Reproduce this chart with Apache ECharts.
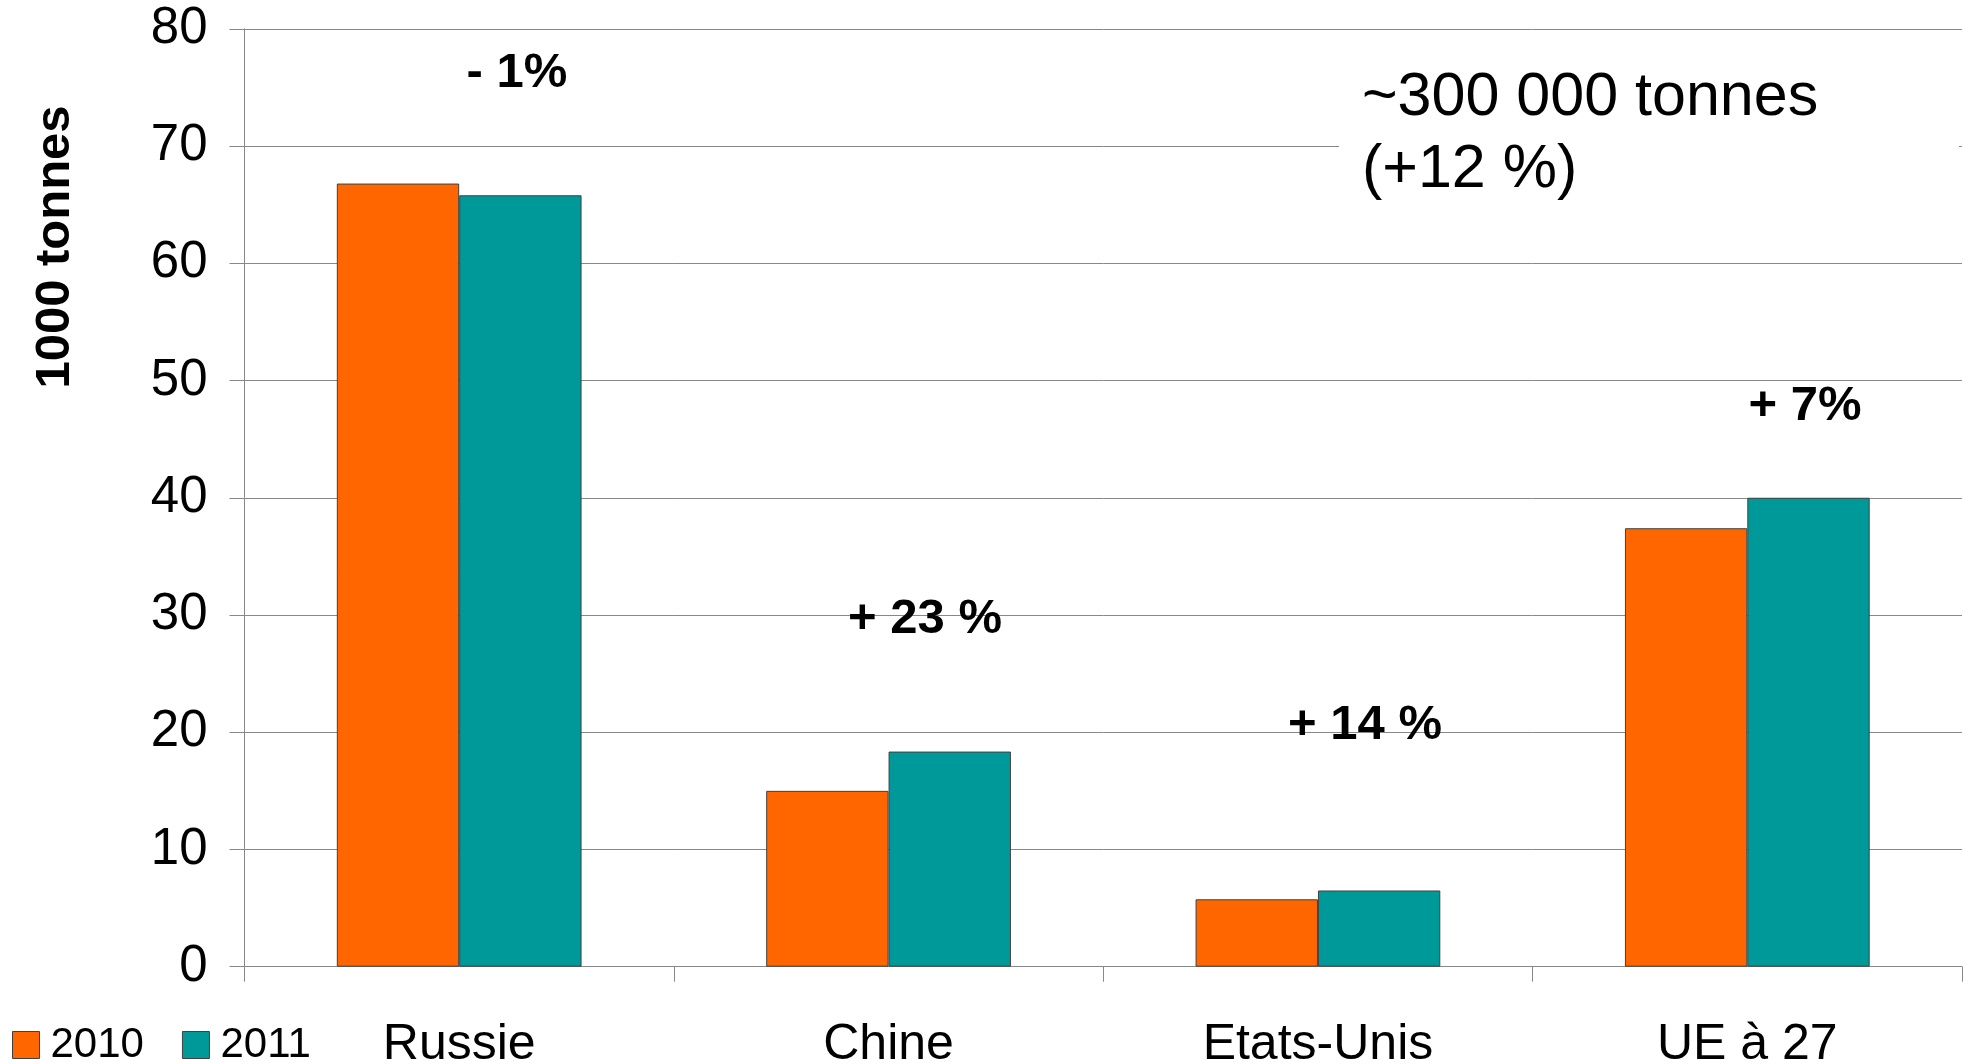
<!DOCTYPE html>
<html><head><meta charset="utf-8">
<script src="https://cdn.jsdelivr.net/npm/echarts@6/dist/echarts.min.js"></script>
<style>html,body{margin:0;padding:0;background:#fff}#c{width:1966px;height:1064px}</style>
</head><body><div id="c"></div>
<script>
const categories = ['Russie', 'Chine', 'Etats-Unis', 'UE à 27'];
const values2010 = [66.8, 15.0, 5.75, 37.4];
const values2011 = [65.8, 18.35, 6.5, 40.0];
const seriesNames = ['2010', '2011'];
const changeLabels = ['- 1%', '+ 23 %', '+ 14 %', '+ 7%'];
const totalNote = ['~300 000 tonnes', '(+12 %)'];
const yAxisTitle = '1000 tonnes';

const FONT = '"Liberation Sans", Arial, sans-serif';
const chart = echarts.init(document.getElementById('c'), null, {renderer: 'canvas'});
const changePos = [[517, 73], [925, 619], [1365, 725], [1805, 406]];

chart.setOption({
  animation: false,
  backgroundColor: '#ffffff',
  grid: {left: 244.5, right: 4, top: 28.8, bottom: 97.3, containLabel: false, outerBoundsMode: 'none'},
  legend: {
    left: 12, top: 1024, padding: 0, itemWidth: 27, itemHeight: 27, itemGap: 38,
    icon: 'rect',
    itemStyle: {borderColor: '#404040', borderWidth: 1},
    textStyle: {fontFamily: FONT, fontSize: 42, color: '#000', padding: [0, 0, 0, 6]},
    data: seriesNames
  },
  xAxis: {
    type: 'category', data: categories,
    axisLine: {lineStyle: {color: '#888', width: 1}},
    axisTick: {show: true, length: 15, lineStyle: {color: '#888'}},
    axisLabel: {fontFamily: FONT, fontSize: 50, color: '#000', margin: 54}
  },
  yAxis: {
    type: 'value', min: 0, max: 80, interval: 10,
    axisLine: {show: true, lineStyle: {color: '#888', width: 1}},
    axisTick: {show: true, length: 15, lineStyle: {color: '#888'}},
    splitLine: {lineStyle: {color: '#888', width: 1}},
    axisLabel: {fontFamily: FONT, fontSize: 51, color: '#000', margin: 37}
  },
  series: [
    {name: seriesNames[0], type: 'bar', data: values2010, barGap: '0%', barCategoryGap: '43%',
     itemStyle: {color: '#FF6600', borderColor: '#404040', borderWidth: 1}},
    {name: seriesNames[1], type: 'bar', data: values2011, barGap: '0%', barCategoryGap: '43%',
     itemStyle: {color: '#009999', borderColor: '#404040', borderWidth: 1}}
  ],
  graphic: [
    {type: 'text', x: 55, y: 247, rotation: Math.PI / 2, z: 100,
     style: {text: yAxisTitle, fontFamily: FONT, fontSize: 49, fontWeight: 'bold', fill: '#000', align: 'center', verticalAlign: 'middle'}},
    {type: 'rect', z: 100, shape: {x: 1339, y: 45, width: 620, height: 150}, style: {fill: '#fff'}},
    {type: 'text', z: 101, x: 1362, y: 98,
     style: {text: totalNote[0], fontFamily: FONT, fontSize: 61, fill: '#000', align: 'left', verticalAlign: 'middle'}},
    {type: 'text', z: 101, x: 1362, y: 170,
     style: {text: totalNote[1], fontFamily: FONT, fontSize: 61, fill: '#000', align: 'left', verticalAlign: 'middle'}}
  ].concat(changeLabels.map((t, i) => ({
    type: 'text', z: 101, x: changePos[i][0], y: changePos[i][1],
    style: {text: t, fontFamily: FONT, fontSize: 49, fontWeight: 'bold', fill: '#000', align: 'center', verticalAlign: 'middle'}
  })))
});
</script></body></html>
